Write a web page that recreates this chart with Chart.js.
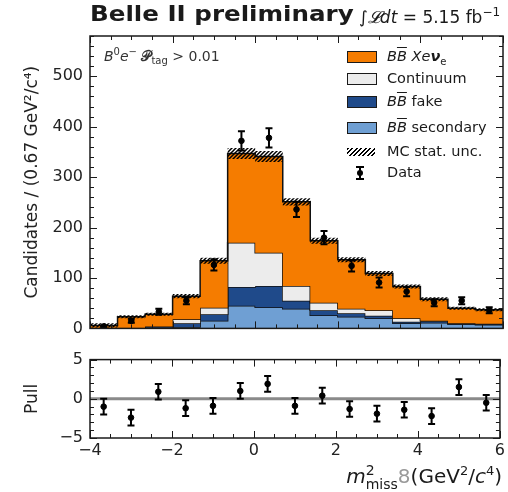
<!DOCTYPE html>
<html lang="en">
<head>
<meta charset="UTF-8">
<title>Belle II missing mass squared</title>
<script src="https://cdn.jsdelivr.net/npm/chart.js"></script>
<style>
    body { margin: 0; background: #fff; font-family: 'DejaVu Sans', sans-serif; color: #1a1a1a; }
    #wrap { position: relative; width: 508px; height: 492px; overflow: hidden; }
    canvas { position: absolute; left: 0; }
    #main { top: 0; }
    #pull { top: 343px; }
    .txt { position: absolute; white-space: nowrap; line-height: 1; }
    .ob { text-decoration: overline; }
    .ss { display: inline-block; vertical-align: -0.45em; font-size: 0.7em; line-height: 1; }
    .ss span { display: block; }
    .leg-box { position: absolute; left: 347px; width: 28px; height: 10px; border: 1.5px solid #1a1a1a; }
    .leg-txt { position: absolute; left: 387px; font-size: 14.5px; line-height: 1; white-space: nowrap; }
</style>
</head>
<body>
<div id="wrap">
    <canvas id="main" width="508" height="345"></canvas>
    <canvas id="pull" width="508" height="125"></canvas>

    <div class="txt" style="left:90px; top:4px; font-size:21px; font-weight:bold; transform:scaleX(1.17); transform-origin:left;">Belle II preliminary</div>
    <div class="txt" style="left:359px; top:6px; font-size:17px;">∫<i>𝓛dt</i> = 5.15 fb<sup style="font-size:12px">−1</sup></div>
    <div class="txt" style="left:104px; top:47px; font-size:14px; color:#333;"><i>B</i><sup style="font-size:10px">0</sup><i>e</i><sup style="font-size:10px">−</sup> <b>𝒫</b><sub style="font-size:10px">tag</sub> &gt; 0.01</div>

    <div id="legend"></div>

    <div class="txt" style="right:6px; top:463px; font-size:20px;"><i>m</i><span class="ss"><span>2</span><span>miss</span></span><span style="color:#999">8</span>(GeV<sup style="font-size:13px">2</sup>/<i>c</i><sup style="font-size:13px">4</sup>)</div>
</div>

<script>
    // bin edges of m2miss in GeV^2/c^4 (bin width 0.67)
    const binEdges = [-4, -3.333, -2.667, -2, -1.333, -0.667, 0, 0.667, 1.333, 2, 2.667, 3.333, 4, 4.667, 5.333, 6];

    // stacked MC components, candidates per bin
    const secondary = [0, 0, 1, 3, 15, 45, 42, 39, 26, 23, 20, 10, 11, 8, 7];
    const fake      = [0, 1, 3, 7, 13, 37, 42, 16, 10, 7, 5, 3, 3, 2, 2];
    const continuum = [0, 0, 0, 8, 13, 88, 66, 29, 15, 9, 11, 7, 1, 0, 0];
    const signal    = [6, 22, 24, 46, 93, 177, 191, 167, 123, 97, 73, 63, 43, 30, 28];
    const mcStatErr = [4, 3, 3, 4, 6, 11, 11, 7, 6, 5, 5, 4, 4, 3, 3];

    // data
    const dataCounts = [4, 15, 33, 55, 126, 372, 378, 236, 180, 124, 91, 73, 51, 55, 36];
    const dataErr    = [2, 4, 6, 7, 11, 19, 19, 15, 13, 11, 10, 9, 7, 7, 6];

    // pulls
    const pulls   = [-1.0, -2.4, 0.9, -1.2, -0.9, 1.0, 1.9, -0.9, 0.4, -1.3, -1.9, -1.4, -2.2, 1.5, -0.5];
    const pullErr = [1, 1, 1, 1, 1, 1, 1, 1, 1, 1, 1, 1, 1, 1, 1];

    const yTicks = [0, 100, 200, 300, 400, 500];
    const xTicks = [-4, -2, 0, 2, 4, 6];
    const pullTicks = [-5, 0, 5];

    const colors = {
        signal: '#f57c00',
        continuum: '#ececec',
        fake: '#1f4a8a',
        secondary: '#6f9fd3'
    };

    Chart.defaults.font.family = "'DejaVu Sans', sans-serif";
    Chart.defaults.color = '#222';
    Chart.defaults.animation = false;

    const centers = binEdges.slice(0, -1).map((e, i) => (e + binEdges[i + 1]) / 2);

    // stepped points: one per edge, last edge repeats last bin
    function steps(vals) {
        return binEdges.map((x, i) => ({ x, y: vals[Math.min(i, vals.length - 1)] }));
    }
    function addUp(a, b) { return a.map((v, i) => v + b[i]); }

    const cum1 = secondary;
    const cum2 = addUp(cum1, fake);
    const cum3 = addUp(cum2, continuum);
    const total = addUp(cum3, signal);
    const hatchLo = total.map((v, i) => v - mcStatErr[i]);
    const hatchHi = total.map((v, i) => v + mcStatErr[i]);

    function makeHatch() {
        const c = document.createElement('canvas');
        c.width = 4; c.height = 4;
        const g = c.getContext('2d');
        g.strokeStyle = '#000';
        g.lineWidth = 1.5;
        g.beginPath();
        g.moveTo(-1, 5); g.lineTo(5, -1);
        g.moveTo(-3, 3); g.lineTo(3, -3);
        g.moveTo(1, 7); g.lineTo(7, 1);
        g.stroke();
        return g.createPattern(c, 'repeat');
    }

    const fmt = v => String(v).replace('-', '\u2212');

    // inward ticks on all four sides plus frame
    const frameTicks = {
        id: 'frameTicks',
        afterDraw(chart, args, o) {
            const { ctx, chartArea: a } = chart;
            const { x, y } = chart.scales;
            const marks = (s, step) => {
                const out = [];
                for (let v = Math.ceil(s.min / step - 1e-6) * step; v <= s.max + 1e-6; v += step) out.push(v);
                return out;
            };
            ctx.save();
            ctx.strokeStyle = '#1a1a1a';
            ctx.lineWidth = 1;
            ctx.beginPath();
            [[o.xMinor, 4], [o.xMajor, 7]].forEach(([step, len]) => {
                marks(x, step).forEach(v => {
                    const px = Math.round(x.getPixelForValue(v)) + 0.5;
                    ctx.moveTo(px, a.bottom); ctx.lineTo(px, a.bottom - len);
                    ctx.moveTo(px, a.top); ctx.lineTo(px, a.top + len);
                });
            });
            [[o.yMinor, 4], [o.yMajor, 7]].forEach(([step, len]) => {
                marks(y, step).forEach(v => {
                    const py = Math.round(y.getPixelForValue(v)) + 0.5;
                    ctx.moveTo(a.left, py); ctx.lineTo(a.left + len, py);
                    ctx.moveTo(a.right, py); ctx.lineTo(a.right - len, py);
                });
            });
            ctx.stroke();
            ctx.lineWidth = 1.5;
            ctx.strokeRect(a.left, a.top, a.right - a.left, a.bottom - a.top);
            ctx.restore();
        }
    };

    // vertical error bars with caps for datasets that carry "errors"
    const errorBars = {
        id: 'errorBars',
        afterDatasetsDraw(chart) {
            const { ctx } = chart;
            const { x, y } = chart.scales;
            chart.data.datasets.forEach(ds => {
                if (!ds.errors) return;
                ctx.save();
                ctx.strokeStyle = '#000';
                ctx.lineWidth = 2;
                ds.data.forEach((p, i) => {
                    const px = x.getPixelForValue(p.x);
                    const lo = y.getPixelForValue(p.y - ds.errors[i]);
                    const hi = y.getPixelForValue(p.y + ds.errors[i]);
                    ctx.beginPath();
                    ctx.moveTo(px, lo); ctx.lineTo(px, hi);
                    ctx.moveTo(px - 3.5, lo); ctx.lineTo(px + 3.5, lo);
                    ctx.moveTo(px - 3.5, hi); ctx.lineTo(px + 3.5, hi);
                    ctx.stroke();
                });
                ctx.restore();
            });
        }
    };

    const stepStyle = { stepped: 'before', pointRadius: 0, borderColor: '#111', borderWidth: 1.5 };

    new Chart(document.getElementById('main'), {
        type: 'line',
        data: {
            datasets: [
                { type: 'scatter', data: centers.map((x, i) => ({ x, y: dataCounts[i] })), errors: dataErr,
                  backgroundColor: '#000', borderColor: '#000', pointRadius: 2.8, showLine: false, order: 0 },
                { data: steps(hatchLo), stepped: 'before', pointRadius: 0, borderWidth: 0, fill: false, order: 1 },
                { data: steps(hatchHi), stepped: 'before', pointRadius: 0, borderWidth: 0, fill: '-1',
                  backgroundColor: makeHatch(), order: 1 },
                { data: steps(cum1), ...stepStyle, fill: 'origin', backgroundColor: colors.secondary, order: 5 },
                { data: steps(cum2), ...stepStyle, fill: '-1', backgroundColor: colors.fake, order: 4 },
                { data: steps(cum3), ...stepStyle, fill: '-1', backgroundColor: colors.continuum, order: 3 },
                { data: steps(total), ...stepStyle, fill: '-1', backgroundColor: colors.signal, order: 2 }
            ]
        },
        options: {
            responsive: false,
            layout: { padding: { top: 36, right: 5, bottom: 8, left: 0 } },
            plugins: {
                legend: { display: false },
                tooltip: { enabled: false },
                frameTicks: { xMajor: 2, xMinor: 0.5, yMajor: 100, yMinor: 20 }
            },
            scales: {
                x: { type: 'linear', min: -4, max: 6, display: false },
                y: {
                    min: 0, max: 580,
                    afterBuildTicks: s => { s.ticks = yTicks.map(v => ({ value: v })); },
                    afterFit: s => { s.width = 90; },
                    grid: { display: false, drawTicks: false },
                    border: { display: false },
                    ticks: { font: { size: 16 }, padding: 7, callback: fmt },
                    title: { display: true, text: 'Candidates / (0.67 GeV²/c⁴)', font: { size: 17 }, padding: { top: 22, bottom: 0 } }
                }
            }
        },
        plugins: [frameTicks, errorBars]
    });

    new Chart(document.getElementById('pull'), {
        type: 'line',
        data: {
            datasets: [
                { type: 'scatter', data: centers.map((x, i) => ({ x, y: pulls[i] })), errors: pullErr,
                  backgroundColor: '#000', borderColor: '#000', pointRadius: 2.8, showLine: false, order: 0 },
                { data: [{ x: binEdges[0], y: 0 }, { x: binEdges[binEdges.length - 1], y: 0 }],
                  borderColor: '#8a8a8a', borderWidth: 3, pointRadius: 0, order: 1 }
            ]
        },
        options: {
            responsive: false,
            layout: { padding: { top: 8, right: 5, bottom: 0, left: 0 } },
            plugins: {
                legend: { display: false },
                tooltip: { enabled: false },
                frameTicks: { xMajor: 2, xMinor: 0.5, yMajor: 5, yMinor: 1 }
            },
            scales: {
                x: {
                    type: 'linear', min: -4, max: 6,
                    afterBuildTicks: s => { s.ticks = xTicks.map(v => ({ value: v })); },
                    afterFit: s => { s.height = 30; },
                    grid: { display: false, drawTicks: false },
                    border: { display: false },
                    ticks: { font: { size: 16 }, padding: 3, callback: fmt, maxRotation: 0 }
                },
                y: {
                    min: -5, max: 5,
                    afterBuildTicks: s => { s.ticks = pullTicks.map(v => ({ value: v })); },
                    afterFit: s => { s.width = 90; },
                    grid: { display: false, drawTicks: false },
                    border: { display: false },
                    ticks: { font: { size: 16 }, padding: 7, callback: fmt },
                    title: { display: true, text: 'Pull', font: { size: 17 }, padding: { top: 22, bottom: 0 } }
                }
            }
        },
        plugins: [frameTicks, errorBars]
    });

    // legend overlay
    const legendRows = [
        { y: 57, fill: colors.signal, html: '<i>B<span class="ob">B</span> Xe</i><b><i>ν</i></b><sub style="font-size:10px">e</sub>' },
        { y: 79, fill: colors.continuum, html: 'Continuum' },
        { y: 102, fill: colors.fake, html: '<i>B<span class="ob">B</span></i> fake' },
        { y: 128, fill: colors.secondary, html: '<i>B<span class="ob">B</span></i> secondary' },
        { y: 152, hatch: true, html: 'MC stat. unc.' },
        { y: 173, data: true, html: 'Data' }
    ];
    const legend = document.getElementById('legend');
    legendRows.forEach(r => {
        let sym;
        if (r.fill) {
            sym = `<div class="leg-box" style="top:${r.y - 6}px; background:${r.fill}"></div>`;
        } else if (r.hatch) {
            sym = `<div style="position:absolute; left:347px; top:${r.y - 4}px; width:28px; height:8px;
                   background:repeating-linear-gradient(135deg, #000 0 1.5px, transparent 1.5px 3.2px)"></div>`;
        } else {
            sym = `<div style="position:absolute; left:359px; top:${r.y - 7}px; width:2px; height:14px; background:#000"></div>
                   <div style="position:absolute; left:356px; top:${r.y - 7}px; width:8px; height:2px; background:#000"></div>
                   <div style="position:absolute; left:356px; top:${r.y + 5}px; width:8px; height:2px; background:#000"></div>
                   <div style="position:absolute; left:357px; top:${r.y - 3}px; width:6px; height:6px; border-radius:3px; background:#000"></div>`;
        }
        legend.insertAdjacentHTML('beforeend', sym +
            `<div class="leg-txt" style="top:${r.y - 8}px">${r.html}</div>`);
    });
</script>
</body>
</html>
